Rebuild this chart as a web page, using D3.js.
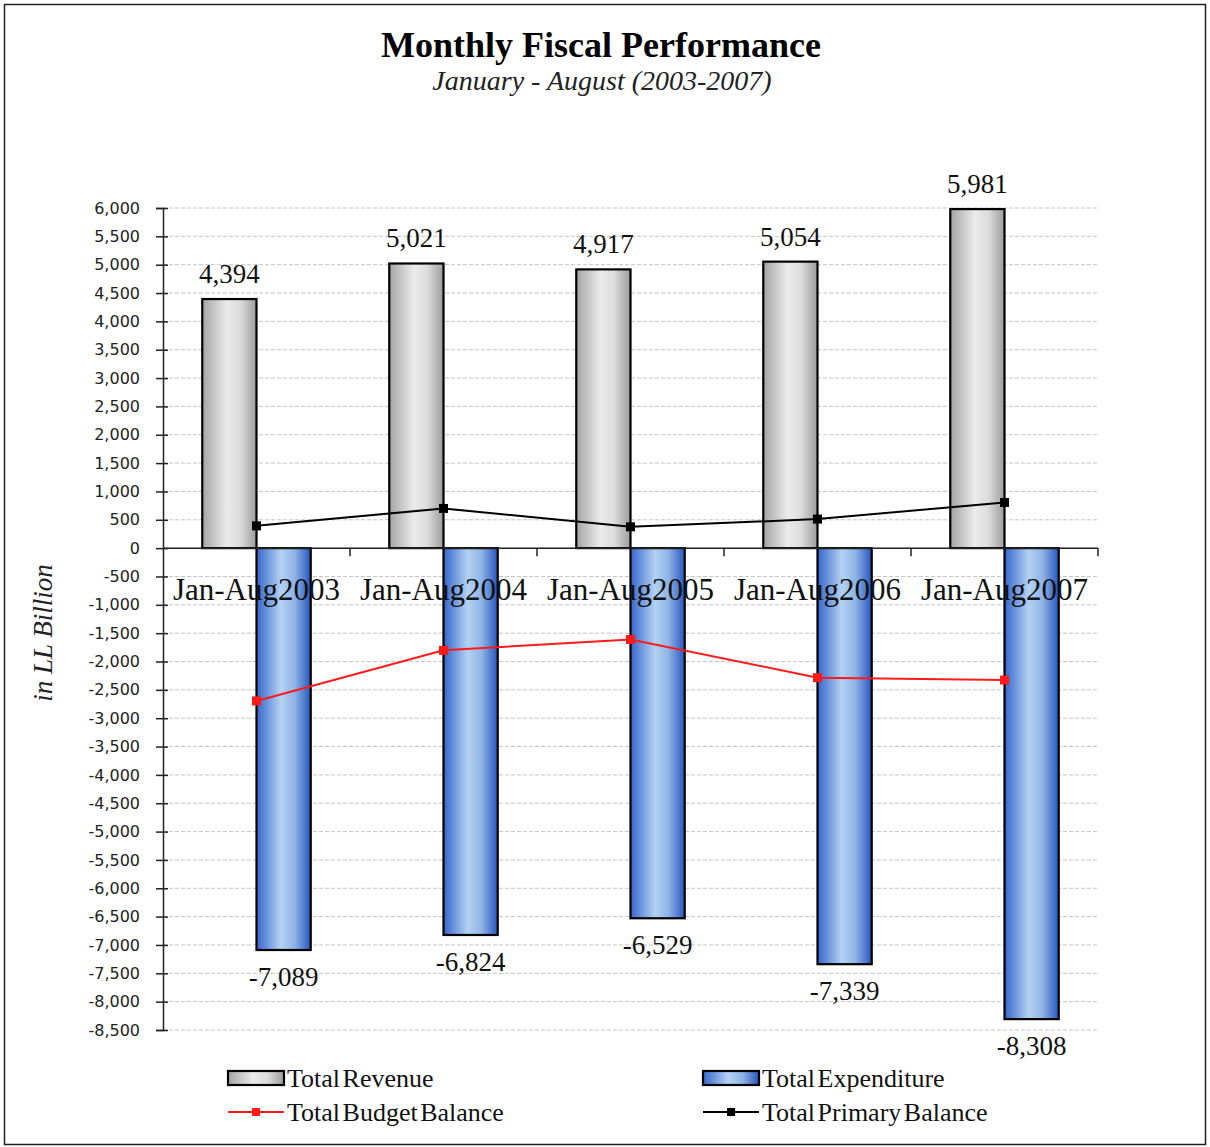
<!DOCTYPE html>
<html>
<head>
<meta charset="utf-8">
<script src="https://cdn.jsdelivr.net/npm/d3@7"></script>
<style>
  html, body { margin: 0; padding: 0; background: #fff; }
  svg { display: block; }
</style>
</head>
<body>
<svg id="chart" width="1210" height="1147"></svg>
<script>
// Fiscal series, LL billion, January–August of each year
const categories = ["Jan-Aug2003", "Jan-Aug2004", "Jan-Aug2005", "Jan-Aug2006", "Jan-Aug2007"];
const revenue = [4394, 5021, 4917, 5054, 5981];
const expenditure = [-7089, -6824, -6529, -7339, -8308];
const budgetBalance = [-2695, -1803, -1612, -2285, -2327];
const primaryBalance = [393, 700, 376, 512, 806];
const yTickValues = [6000, 5500, 5000, 4500, 4000, 3500, 3000, 2500, 2000, 1500, 1000, 500, 0,
  -500, -1000, -1500, -2000, -2500, -3000, -3500, -4000, -4500, -5000, -5500, -6000, -6500,
  -7000, -7500, -8000, -8500];

const svg = d3.select("#chart");
const W = 1210, H = 1147;
const plot = { left: 163, right: 1098, top: 208, bottom: 1030 };
const serif = "'Liberation Serif', 'Times New Roman', serif";

// thousands separator with a plain hyphen for negatives
const fmt = d3.formatLocale({ decimal: ".", thousands: ",", grouping: [3], currency: ["", ""], minus: "-" }).format(",");

// frame
svg.append("rect").attr("x", 4.5).attr("y", 4.5).attr("width", W - 9).attr("height", H - 7)
  .attr("fill", "#fff").attr("stroke", "#222").attr("stroke-width", 1.5);

const x = d3.scaleBand().domain(categories).range([plot.left, plot.right]).padding(0);
const y = d3.scaleLinear().domain([-8500, 6000]).range([plot.bottom, plot.top]);
const barW = x.bandwidth() * 0.29;
const cx = c => x(c) + x.bandwidth() / 2;

// gradients
const defs = svg.append("defs");
function hGrad(id, stops) {
  const g = defs.append("linearGradient").attr("id", id).attr("x1", "0").attr("x2", "1").attr("y1", "0").attr("y2", "0");
  stops.forEach(([o, c]) => g.append("stop").attr("offset", o).attr("stop-color", c));
}
hGrad("gRev", [[0, "#a4a4a4"], [0.45, "#ebebeb"], [0.7, "#dcdcdc"], [1, "#9c9c9c"]]);
hGrad("gExp", [[0, "#3566cc"], [0.45, "#b4d2f2"], [0.7, "#8fb4e6"], [1, "#2756bd"]]);

// gridlines
svg.append("g").selectAll("line").data(yTickValues).join("line")
  .attr("x1", plot.left).attr("x2", plot.right)
  .attr("y1", d => y(d)).attr("y2", d => y(d))
  .attr("stroke", "#c4c4c4").attr("stroke-width", 1).attr("stroke-dasharray", "4,2");

// revenue bars
svg.append("g").selectAll("rect").data(categories).join("rect")
  .attr("x", c => cx(c) - barW).attr("width", barW)
  .attr("y", (c, i) => y(revenue[i])).attr("height", (c, i) => y(0) - y(revenue[i]))
  .attr("fill", "url(#gRev)").attr("stroke", "#000").attr("stroke-width", 2.2);

// expenditure bars
svg.append("g").selectAll("rect").data(categories).join("rect")
  .attr("x", c => cx(c)).attr("width", barW)
  .attr("y", y(0)).attr("height", (c, i) => y(expenditure[i]) - y(0))
  .attr("fill", "url(#gExp)").attr("stroke", "#000").attr("stroke-width", 2.2);

// y axis
const yAxis = svg.append("g").attr("transform", `translate(${plot.left},0)`)
  .call(d3.axisLeft(y).tickValues(yTickValues).tickSize(7).tickPadding(0).tickFormat(fmt));
yAxis.select(".domain").attr("stroke", "#222").attr("stroke-width", 1.5);
yAxis.selectAll(".tick line").attr("x1", -7).attr("x2", 5).attr("stroke", "#222").attr("stroke-width", 1.5);
yAxis.selectAll(".tick text").attr("x", -23)
  .attr("font-family", "'DejaVu Sans', Verdana, sans-serif").attr("font-size", 16).attr("fill", "#222");

// x axis at zero
const xAxis = svg.append("g").attr("transform", `translate(0,${y(0)})`);
xAxis.append("line").attr("x1", plot.left).attr("x2", plot.right).attr("stroke", "#222").attr("stroke-width", 1.5);
xAxis.selectAll("line.tk").data(categories).join("line").attr("class", "tk")
  .attr("x1", c => x(c) + x.bandwidth()).attr("x2", c => x(c) + x.bandwidth())
  .attr("y1", 0).attr("y2", 8).attr("stroke", "#222").attr("stroke-width", 1.5);

// balance lines
function series(vals, color) {
  const pts = categories.map((c, i) => [cx(c), y(vals[i])]);
  svg.append("path").attr("d", d3.line()(pts)).attr("fill", "none")
    .attr("stroke", color).attr("stroke-width", 2);
  svg.append("g").selectAll("rect").data(pts).join("rect")
    .attr("x", p => p[0] - 4.5).attr("y", p => p[1] - 4.5).attr("width", 9).attr("height", 9)
    .attr("fill", color);
}
series(primaryBalance, "#000");
series(budgetBalance, "#ff1a1a");

// category labels
svg.append("g").selectAll("text").data(categories).join("text")
  .attr("x", c => cx(c)).attr("y", y(0) + 52).attr("text-anchor", "middle")
  .attr("font-family", serif).attr("font-size", 31).attr("fill", "#111").text(c => c);

// value labels
svg.append("g").selectAll("text").data(categories).join("text")
  .attr("x", c => cx(c) - barW / 2).attr("y", (c, i) => y(revenue[i]) - 16)
  .attr("text-anchor", "middle").attr("font-family", serif).attr("font-size", 27).attr("fill", "#111")
  .text((c, i) => fmt(revenue[i]));
svg.append("g").selectAll("text").data(categories).join("text")
  .attr("x", c => cx(c) + barW / 2).attr("y", (c, i) => y(expenditure[i]) + 36)
  .attr("text-anchor", "middle").attr("font-family", serif).attr("font-size", 27).attr("fill", "#111")
  .text((c, i) => fmt(expenditure[i]));

// titles
svg.append("text").attr("x", 601).attr("y", 57).attr("text-anchor", "middle")
  .attr("font-family", serif).attr("font-weight", "bold").attr("font-size", 36).attr("fill", "#000")
  .text("Monthly Fiscal Performance");
svg.append("text").attr("x", 602).attr("y", 90).attr("text-anchor", "middle")
  .attr("font-family", serif).attr("font-style", "italic").attr("font-size", 28).attr("fill", "#222")
  .text("January - August (2003-2007)");
svg.append("text").attr("transform", `translate(52,633) rotate(-90)`).attr("text-anchor", "middle")
  .attr("font-family", serif).attr("font-style", "italic").attr("font-size", 27).attr("fill", "#222")
  .text("in LL Billion");

// legend
const legend = svg.append("g").attr("font-family", serif).attr("font-size", 26).attr("fill", "#111");
const legItems = [
  { label: "Total Revenue", kind: "bar", fill: "url(#gRev)", x: 228, y: 1078 },
  { label: "Total Expenditure", kind: "bar", fill: "url(#gExp)", x: 703, y: 1078 },
  { label: "Total Budget Balance", kind: "line", color: "#ff1a1a", x: 228, y: 1112 },
  { label: "Total Primary Balance", kind: "line", color: "#000", x: 703, y: 1112 }
];
legItems.forEach(it => {
  const g = legend.append("g").attr("transform", `translate(${it.x},${it.y})`);
  if (it.kind === "bar") {
    g.append("rect").attr("x", 0).attr("y", -7).attr("width", 56).attr("height", 14)
      .attr("fill", it.fill).attr("stroke", "#000").attr("stroke-width", 2.2);
  } else {
    g.append("line").attr("x1", 0).attr("x2", 56).attr("stroke", it.color).attr("stroke-width", 2);
    g.append("rect").attr("x", 24).attr("y", -4).attr("width", 8).attr("height", 8).attr("fill", it.color);
  }
  g.append("text").attr("x", 59).attr("y", 9).attr("word-spacing", -4).text(it.label);
});
</script>
</body>
</html>
